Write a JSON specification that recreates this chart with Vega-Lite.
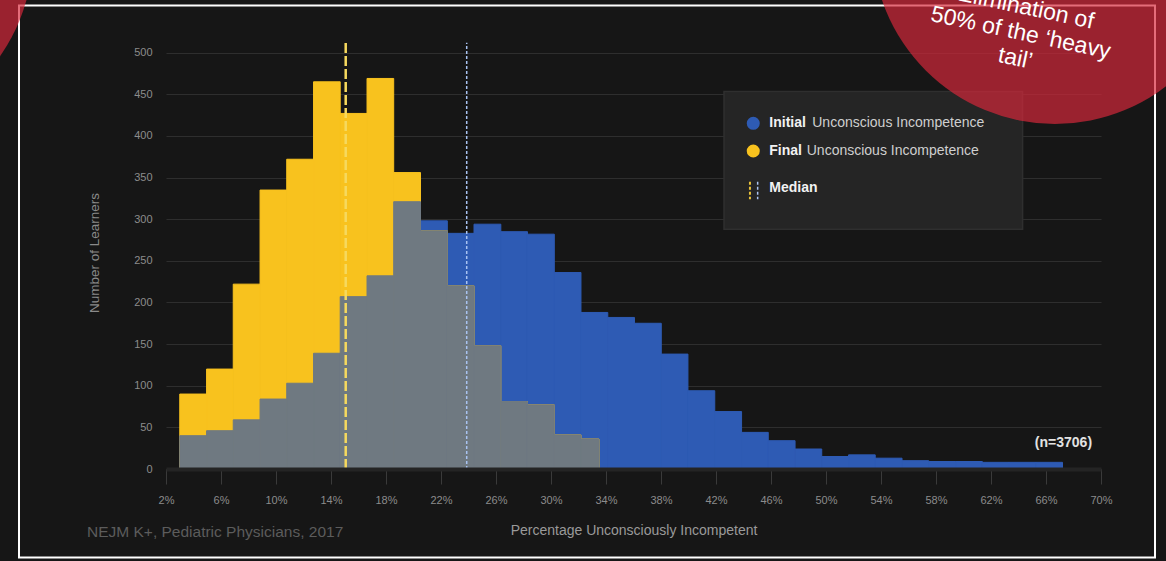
{
  "$schema": "https://vega.github.io/schema/vega-lite/v6.json",
  "width": 935,
  "height": 433,
  "autosize": {"type": "none"},
  "padding": {"left": 166, "top": 36, "right": 65, "bottom": 92},
  "background": "#161616",
  "config": {
    "view": {"stroke": null},
    "font": "Liberation Sans"
  },
  "datasets": {
    "bins": [
      {"series": "Initial", "x": 3.00, "x2": 4.95, "y": 40},
      {"series": "Initial", "x": 4.95, "x2": 6.89, "y": 46},
      {"series": "Initial", "x": 6.89, "x2": 8.84, "y": 59},
      {"series": "Initial", "x": 8.84, "x2": 10.78, "y": 84},
      {"series": "Initial", "x": 10.78, "x2": 12.73, "y": 103},
      {"series": "Initial", "x": 12.73, "x2": 14.67, "y": 139},
      {"series": "Initial", "x": 14.67, "x2": 16.62, "y": 207},
      {"series": "Initial", "x": 16.62, "x2": 18.56, "y": 232},
      {"series": "Initial", "x": 18.56, "x2": 20.51, "y": 321},
      {"series": "Initial", "x": 20.51, "x2": 22.46, "y": 298},
      {"series": "Initial", "x": 22.46, "x2": 24.40, "y": 283},
      {"series": "Initial", "x": 24.40, "x2": 26.35, "y": 294},
      {"series": "Initial", "x": 26.35, "x2": 28.29, "y": 285},
      {"series": "Initial", "x": 28.29, "x2": 30.24, "y": 282},
      {"series": "Initial", "x": 30.24, "x2": 32.18, "y": 236},
      {"series": "Initial", "x": 32.18, "x2": 34.13, "y": 188},
      {"series": "Initial", "x": 34.13, "x2": 36.07, "y": 182},
      {"series": "Initial", "x": 36.07, "x2": 38.02, "y": 175},
      {"series": "Initial", "x": 38.02, "x2": 39.96, "y": 138},
      {"series": "Initial", "x": 39.96, "x2": 41.91, "y": 94},
      {"series": "Initial", "x": 41.91, "x2": 43.86, "y": 69},
      {"series": "Initial", "x": 43.86, "x2": 45.80, "y": 44},
      {"series": "Initial", "x": 45.80, "x2": 47.75, "y": 34},
      {"series": "Initial", "x": 47.75, "x2": 49.69, "y": 24},
      {"series": "Initial", "x": 49.69, "x2": 51.64, "y": 15},
      {"series": "Initial", "x": 51.64, "x2": 53.58, "y": 17},
      {"series": "Initial", "x": 53.58, "x2": 55.53, "y": 13},
      {"series": "Initial", "x": 55.53, "x2": 57.47, "y": 10},
      {"series": "Initial", "x": 57.47, "x2": 59.42, "y": 9},
      {"series": "Initial", "x": 59.42, "x2": 61.37, "y": 9},
      {"series": "Initial", "x": 61.37, "x2": 63.31, "y": 8},
      {"series": "Initial", "x": 63.31, "x2": 65.26, "y": 8},
      {"series": "Initial", "x": 65.26, "x2": 67.20, "y": 8},
      {"series": "Final", "x": 3.00, "x2": 4.95, "y": 90},
      {"series": "Final", "x": 4.95, "x2": 6.89, "y": 120},
      {"series": "Final", "x": 6.89, "x2": 8.84, "y": 222},
      {"series": "Final", "x": 8.84, "x2": 10.78, "y": 335},
      {"series": "Final", "x": 10.78, "x2": 12.73, "y": 372},
      {"series": "Final", "x": 12.73, "x2": 14.67, "y": 465},
      {"series": "Final", "x": 14.67, "x2": 16.62, "y": 427},
      {"series": "Final", "x": 16.62, "x2": 18.56, "y": 469},
      {"series": "Final", "x": 18.56, "x2": 20.51, "y": 356},
      {"series": "Final", "x": 20.51, "x2": 22.46, "y": 286},
      {"series": "Final", "x": 22.46, "x2": 24.40, "y": 220},
      {"series": "Final", "x": 24.40, "x2": 26.35, "y": 148},
      {"series": "Final", "x": 26.35, "x2": 28.29, "y": 81},
      {"series": "Final", "x": 28.29, "x2": 30.24, "y": 77},
      {"series": "Final", "x": 30.24, "x2": 32.18, "y": 41},
      {"series": "Final", "x": 32.18, "x2": 33.49, "y": 36}
    ],
    "medians": [
      {"series": "Final", "x": 15.07, "y": 0, "y2": 512},
      {"series": "Initial", "x": 23.87, "y": 0, "y2": 512}
    ],
    "frame": [{"x": -8.691, "x2": 73.927, "y": 556.69, "y2": -106.29}],
    "legendbox": [{"x": 42.58, "x2": 64.3, "y": 453.2, "y2": 287.9}],
    "legenddots": [
      {"series": "Initial", "x": 44.71, "y": 415.2},
      {"series": "Final", "x": 44.71, "y": 381.9}
    ],
    "legendbold": [
      {"x": 45.876, "y": 415.2, "label": "Initial"},
      {"x": 45.876, "y": 381.9, "label": "Final"},
      {"x": 45.876, "y": 337.1, "label": "Median"}
    ],
    "legendregular": [
      {"x": 49.0, "y": 415.2, "label": "Unconscious Incompetence"},
      {"x": 48.6, "y": 381.9, "label": "Unconscious Incompetence"}
    ],
    "legendicons": [
      {"series": "Final", "x": 44.47, "y": 345.1, "y2": 323.9},
      {"series": "Initial", "x": 45.03, "y": 345.1, "y2": 323.9}
    ],
    "ntext": [{"x": 69.35, "y": 31.2, "label": "(n=3706)"}],
    "credit": [{"x": -3.745, "y": -75.7, "label": "NEJM K+, Pediatric Physicians, 2017"}],
    "circles": [{"x": 66.65, "y": 633.8}, {"x": -20.95, "y": 621.8}],
    "circletext": [{"x": 64.55, "y": 554.2, "label": "Elimination of\n50% of the ‘heavy\ntail’"}]
  },
  "encoding": {
    "x": {
      "field": "x", "type": "quantitative",
      "scale": {"domain": [2, 70], "nice": false, "zero": false},
      "axis": {
        "title": "Percentage Unconsciously Incompetent",
        "values": [2, 6, 10, 14, 18, 22, 26, 30, 34, 38, 42, 46, 50, 54, 58, 62, 66, 70],
        "labelExpr": "datum.value + '%'",
        "labelFlush": false,
        "labelOverlap": false,
        "grid": false,
        "domain": true, "domainColor": "#242424", "domainWidth": 4,
        "ticks": true, "tickColor": "#3a3a3a", "tickSize": 15, "tickWidth": 1,
        "labelColor": "#8c8c8c", "labelFontSize": 11, "labelPadding": 10, "labelFont": "Liberation Sans",
        "titleColor": "#9a9a9a", "titleFontSize": 14, "titleFontWeight": "normal", "titlePadding": 18, "titleFont": "Liberation Sans",
        "zindex": 1
      }
    },
    "y": {
      "field": "y", "type": "quantitative",
      "scale": {"domain": [0, 520], "nice": false, "zero": false},
      "axis": {
        "title": "Number of Learners",
        "values": [0, 50, 100, 150, 200, 250, 300, 350, 400, 450, 500],
        "grid": true, "gridColor": "#2e2e2e", "gridWidth": 1,
        "domain": false, "ticks": false, "tickSize": 0,
        "labelColor": "#8c8c8c", "labelFontSize": 11, "labelPadding": 14, "labelFont": "Liberation Sans",
        "titleColor": "#8a8a8a", "titleFontSize": 13.5, "titleFontWeight": "normal", "titlePadding": 32, "titleFont": "Liberation Sans"
      }
    }
  },
  "layer": [
    {
      "data": {"name": "frame"},
      "mark": {"type": "rect", "fill": null, "fillOpacity": 0, "stroke": "#ffffff", "strokeWidth": 2},
      "encoding": {"x2": {"field": "x2"}, "y2": {"field": "y2"}}
    },
    {
      "data": {"name": "bins"},
      "transform": [{"filter": "datum.series === 'Initial'"}],
      "mark": {"type": "rect", "color": "#2e5bb4", "opacity": 1, "stroke": "#2e5bb4", "strokeWidth": 1},
      "encoding": {"x2": {"field": "x2"}, "y2": {"datum": 0}}
    },
    {
      "data": {"name": "bins"},
      "transform": [{"filter": "datum.series === 'Final'"}],
      "mark": {"type": "rect", "color": "#f8c21e", "opacity": 1, "stroke": "#f8c21e", "strokeWidth": 1},
      "encoding": {"x2": {"field": "x2"}, "y2": {"datum": 0}}
    },
    {
      "data": {"name": "bins"},
      "transform": [
        {"aggregate": [
          {"op": "min", "field": "y", "as": "y"},
          {"op": "min", "field": "x2", "as": "x2"},
          {"op": "count", "as": "n"}
        ], "groupby": ["x"]},
        {"filter": "datum.n > 1"}
      ],
      "mark": {"type": "rect", "color": "#6f7981", "opacity": 1, "stroke": "#6f7981", "strokeWidth": 1},
      "encoding": {"x2": {"field": "x2"}, "y2": {"datum": 0}}
    },
    {
      "data": {"name": "medians"},
      "transform": [{"filter": "datum.series === 'Final'"}],
      "mark": {"type": "rule", "color": "#f6d95e", "strokeWidth": 2.5, "strokeDash": [10, 3]},
      "encoding": {"y2": {"field": "y2"}}
    },
    {
      "data": {"name": "medians"},
      "transform": [{"filter": "datum.series === 'Initial'"}],
      "mark": {"type": "rule", "color": "#a9c3f2", "strokeWidth": 1.5, "strokeDash": [3, 2]},
      "encoding": {"y2": {"field": "y2"}}
    },
    {
      "data": {"name": "ntext"},
      "mark": {"type": "text", "align": "right", "baseline": "middle", "fontSize": 14, "fontWeight": "bold", "color": "#e2e2e2", "font": "Liberation Sans"},
      "encoding": {"text": {"field": "label"}}
    },
    {
      "data": {"name": "legendbox"},
      "mark": {"type": "rect", "fill": "#252525", "stroke": "#2f2f2f", "strokeWidth": 1.5},
      "encoding": {"x2": {"field": "x2"}, "y2": {"field": "y2"}}
    },
    {
      "data": {"name": "legenddots"},
      "mark": {"type": "point", "filled": true, "shape": "circle", "size": 170, "opacity": 1},
      "encoding": {
        "color": {"field": "series", "type": "nominal", "scale": {"domain": ["Initial", "Final"], "range": ["#2e5bb4", "#f8c21e"]}, "legend": null}
      }
    },
    {
      "data": {"name": "legendbold"},
      "mark": {"type": "text", "align": "left", "baseline": "middle", "fontSize": 14, "fontWeight": "bold", "color": "#f2f2f2", "font": "Liberation Sans"},
      "encoding": {"text": {"field": "label"}}
    },
    {
      "data": {"name": "legendregular"},
      "mark": {"type": "text", "align": "left", "baseline": "middle", "fontSize": 14, "color": "#cfcfcf", "font": "Liberation Sans"},
      "encoding": {"text": {"field": "label"}}
    },
    {
      "data": {"name": "legendicons"},
      "transform": [{"filter": "datum.series === 'Final'"}],
      "mark": {"type": "rule", "color": "#e8c13a", "strokeWidth": 2, "strokeDash": [3, 2]},
      "encoding": {"y2": {"field": "y2"}}
    },
    {
      "data": {"name": "legendicons"},
      "transform": [{"filter": "datum.series === 'Initial'"}],
      "mark": {"type": "rule", "color": "#a9c3f2", "strokeWidth": 1.5, "strokeDash": [3, 2]},
      "encoding": {"y2": {"field": "y2"}}
    },
    {
      "data": {"name": "credit"},
      "mark": {"type": "text", "align": "left", "baseline": "middle", "fontSize": 15.5, "color": "#5c5c5c", "font": "Liberation Sans"},
      "encoding": {"text": {"field": "label"}}
    },
    {
      "data": {"name": "circles"},
      "mark": {"type": "point", "filled": true, "shape": "circle", "size": 133500, "color": "#d9283b", "opacity": 0.68},
      "encoding": {}
    },
    {
      "data": {"name": "circletext"},
      "mark": {"type": "text", "align": "center", "baseline": "middle", "fontSize": 23, "lineHeight": 26, "angle": 12, "color": "#ffffff", "lineBreak": "\n", "font": "Liberation Sans"},
      "encoding": {"text": {"field": "label"}}
    }
  ]
}
